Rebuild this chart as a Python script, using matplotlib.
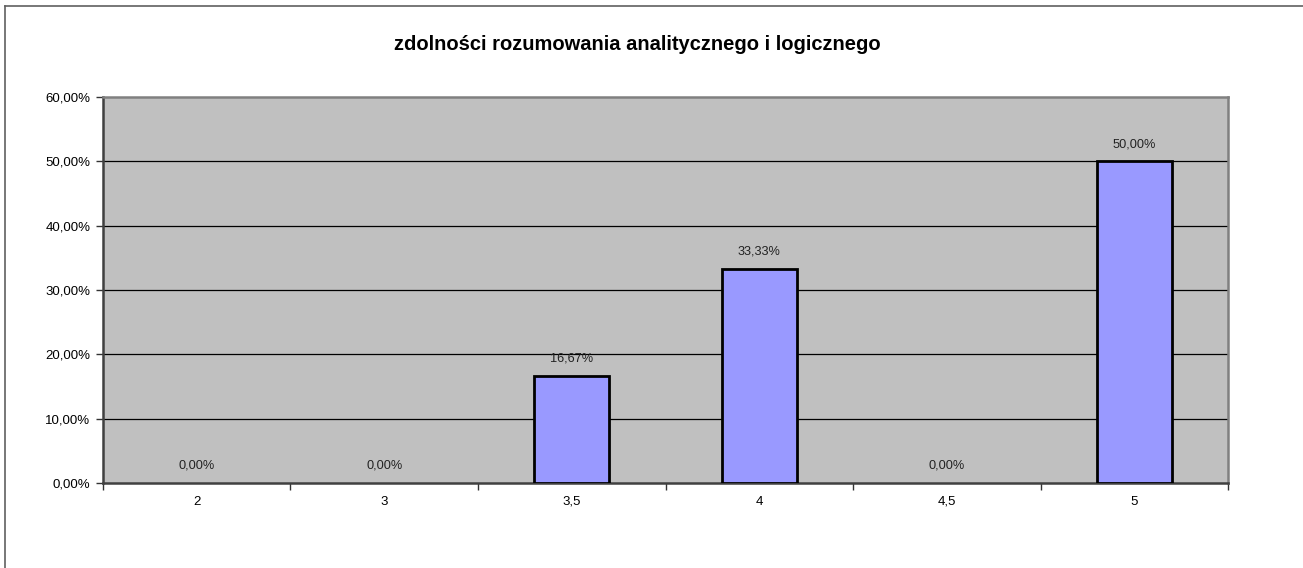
import numpy as np
import matplotlib.pyplot as plt
from matplotlib.lines import Line2D

plt.rcParams['font.family'] = ['Liberation Sans', 'DejaVu Sans']

# dane
categories = ['2', '3', '3,5', '4', '4,5', '5']
values = [0.0, 0.0, 0.1667, 0.3333, 0.0, 0.50]
labels = ['0,00%', '0,00%', '16,67%', '33,33%', '0,00%', '50,00%']
yticks = [0.0, 0.1, 0.2, 0.3, 0.4, 0.5, 0.6]
ytick_labels = ['0,00%', '10,00%', '20,00%', '30,00%', '40,00%', '50,00%', '60,00%']

fig = plt.figure(figsize=(13.03, 5.68), dpi=100)
ax = fig.add_axes([0.0790, 0.1496, 0.8635, 0.6796])
ax.set_facecolor('#C0C0C0')

x = np.arange(len(categories))
lw = [2 if v > 0 else 0 for v in values]
ax.bar(x, values, width=0.4, color='#9999FF', edgecolor='black', linewidth=lw, zorder=3)

for xi, v, lab in zip(x, values, labels):
    ax.annotate(lab, (xi, v), xytext=(0, 8), textcoords='offset points',
                ha='center', va='bottom', fontsize=9.2, color='#222222')

ax.set_xlim(-0.5, len(categories) - 0.5)
ax.set_ylim(0, 0.6)
ax.set_yticks(yticks)
ax.set_yticklabels(ytick_labels, fontsize=9.5)
ax.set_xticks(x)
ax.set_xticklabels(categories, fontsize=9.5)
ax.set_xticks(np.arange(-0.5, len(categories), 1.0), minor=True)
ax.tick_params(axis='x', which='major', length=0, pad=9)
ax.tick_params(axis='x', which='minor', length=5, width=1, direction='out', color='#333333')
ax.tick_params(axis='y', length=5, width=1, direction='out', color='#333333', pad=4)

for yv in yticks[1:-1]:
    ax.axhline(yv, color='black', linewidth=0.9, zorder=1)

for s in ['left', 'bottom']:
    ax.spines[s].set_color('#404040')
    ax.spines[s].set_linewidth(1.8)
for s in ['top', 'right']:
    ax.spines[s].set_color('#808080')
    ax.spines[s].set_linewidth(1.8)

fig.text(637 / 1303, 1 - 44 / 568, 'zdolności rozumowania analitycznego i logicznego',
         ha='center', va='center', fontsize=14.5, fontweight='bold')

# ramka wykresu
fig.add_artist(Line2D([5 / 1303, 5 / 1303], [0, 1 - 6 / 568], color='#606060', linewidth=1.2))
fig.add_artist(Line2D([5 / 1303, 1], [1 - 6 / 568, 1 - 6 / 568], color='#606060', linewidth=1.2))

fig.savefig('out.png', dpi=100)
